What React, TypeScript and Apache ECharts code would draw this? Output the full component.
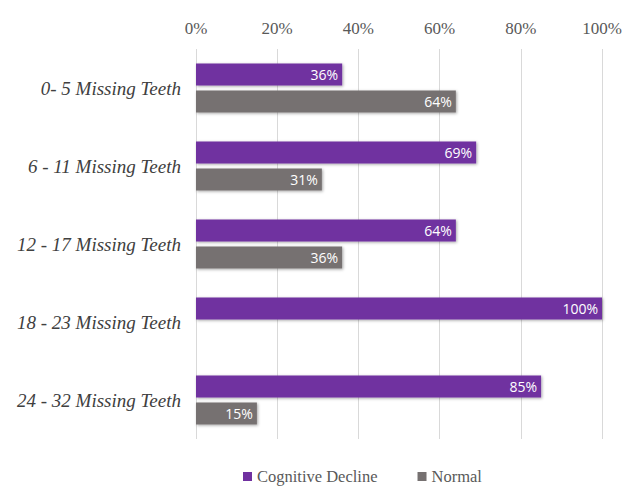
import React, { useEffect, useRef } from "react";
import * as echarts from "echarts";

const categories = [
  "0- 5 Missing Teeth",
  "6 - 11 Missing Teeth",
  "12 - 17 Missing Teeth",
  "18 - 23 Missing Teeth",
  "24 - 32 Missing Teeth",
];
const cognitiveDecline = [36, 69, 64, 100, 85];
const normal: (number | null)[] = [64, 31, 36, null, 15];
const seriesNames = ["Cognitive Decline", "Normal"];

const SERIF = "Liberation Serif";

export default function App() {
  const ref = useRef<HTMLDivElement>(null);
  useEffect(() => {
    document.body.style.margin = "0";
    const chart = echarts.init(ref.current!, undefined, { renderer: "svg" });
    const label = {
      show: true,
      position: "insideRight",
      color: "#ffffff",
      fontFamily: "Open Sans",
      fontSize: 14,
      distance: 4,
      formatter: (p: any) => (p.value == null ? "" : p.value + "%"),
    };
    const legendText = { color: "#595959", fontFamily: SERIF, fontSize: 16.5 };
    chart.setOption({
      animation: false,
      backgroundColor: "#ffffff",
      textStyle: { fontFamily: SERIF },
      grid: { left: 196, right: 26, top: 49, bottom: 49, containLabel: false },
      xAxis: {
        type: "value",
        position: "top",
        min: 0,
        max: 100,
        interval: 20,
        axisLine: { show: false },
        axisTick: { show: false },
        axisLabel: {
          formatter: "{value}%",
          color: "#595959",
          fontFamily: SERIF,
          fontSize: 17,
          margin: 12,
        },
        splitLine: { lineStyle: { color: "#d9d9d9", width: 1 } },
      },
      yAxis: {
        type: "category",
        data: categories,
        inverse: true,
        axisLine: { show: false },
        axisTick: { show: false },
        axisLabel: {
          color: "#404040",
          fontFamily: SERIF,
          fontStyle: "italic",
          fontSize: 19,
          margin: 15,
        },
      },
      legend: {
        bottom: -2,
        left: 238,
        itemWidth: 9,
        itemHeight: 9,
        itemGap: 40,
        icon: "rect",
        textStyle: legendText,
        data: seriesNames.map((name) => ({ name, textStyle: legendText })),
      },
      series: [
        {
          name: seriesNames[0],
          type: "bar",
          data: cognitiveDecline,
          barWidth: 22,
          barGap: "22%",
          itemStyle: {
            color: "#7030a0",
            shadowColor: "rgba(0,0,0,0.35)",
            shadowBlur: 3,
            shadowOffsetX: 1,
            shadowOffsetY: 1,
          },
          label,
        },
        {
          name: seriesNames[1],
          type: "bar",
          data: normal,
          barWidth: 22,
          itemStyle: {
            color: "#767171",
            shadowColor: "rgba(0,0,0,0.35)",
            shadowBlur: 3,
            shadowOffsetX: 1,
            shadowOffsetY: 1,
          },
          label,
        },
      ],
    });
    return () => chart.dispose();
  }, []);
  return <div ref={ref} style={{ width: 628, height: 488 }} />;
}
